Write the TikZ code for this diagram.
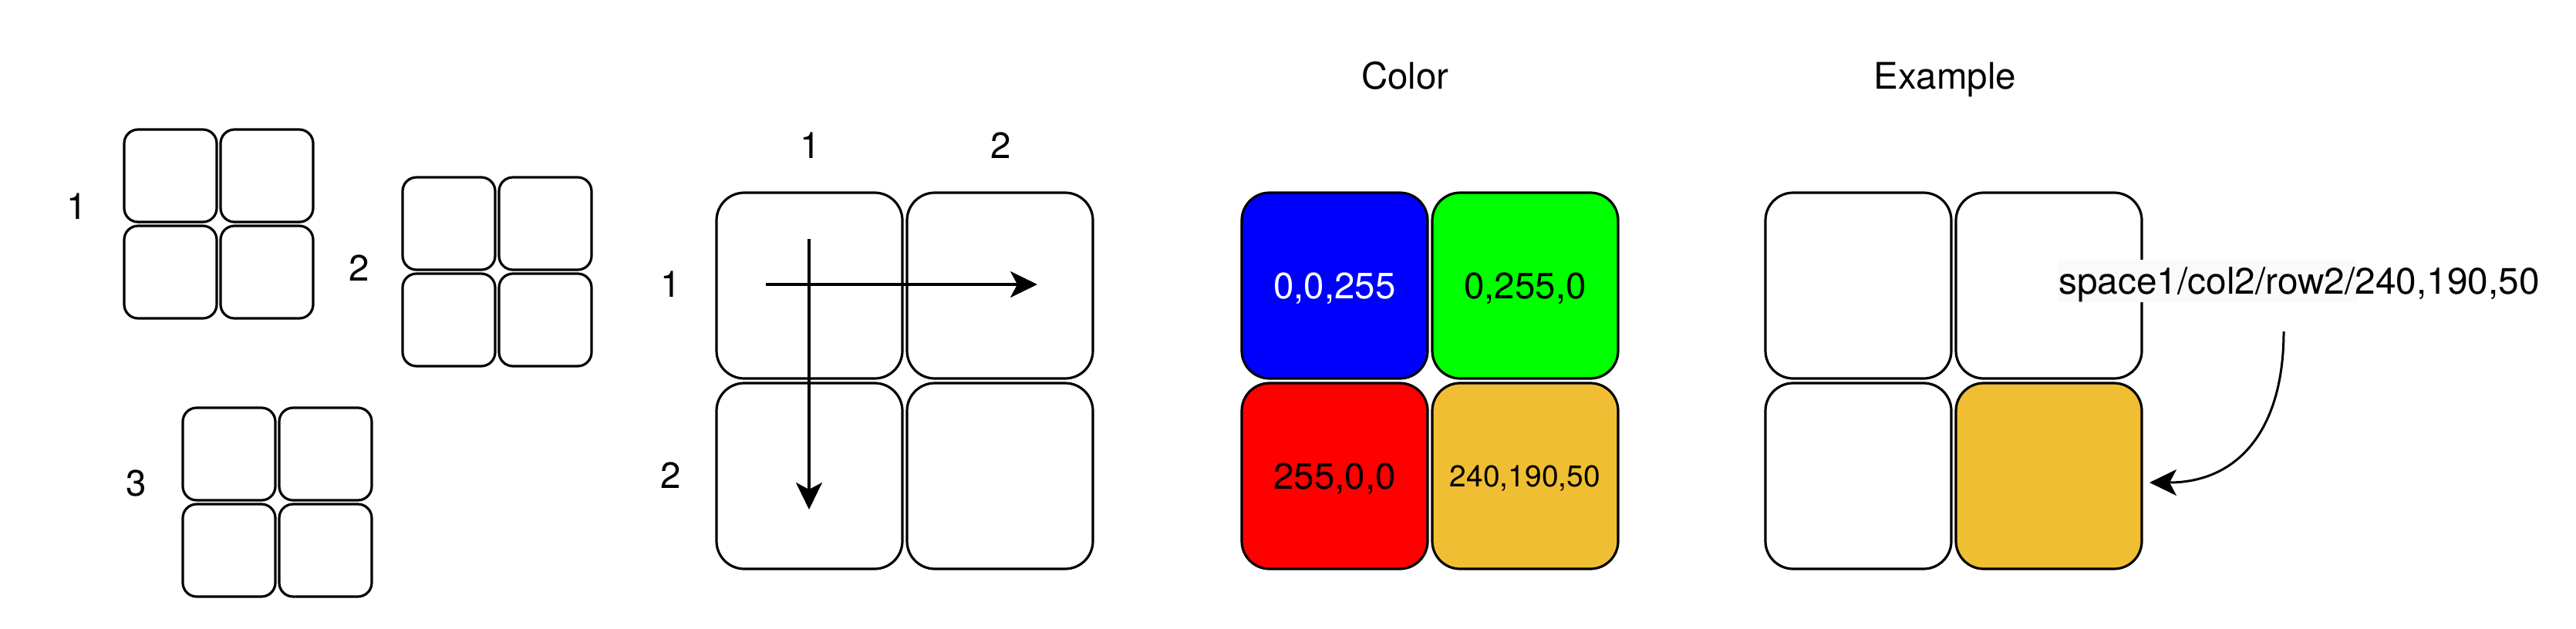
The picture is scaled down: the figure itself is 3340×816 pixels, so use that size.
\documentclass[tikz,border=0pt]{standalone}
\usepackage{fontspec}
\setmainfont{TeX Gyre Heros}
\usetikzlibrary{arrows.meta}
\definecolor{cblue}{RGB}{0,0,255}
\definecolor{cgreen}{RGB}{0,255,0}
\definecolor{cred}{RGB}{255,0,0}
\definecolor{cyel}{RGB}{240,190,50}
\definecolor{lblbg}{RGB}{250,250,250}
\begin{document}
\begin{tikzpicture}[x=1pt,y=-1pt,
  cell/.style={draw=black, line width=3.2pt, rounded corners=18pt, minimum width=120pt, minimum height=120pt, inner sep=0pt, outer sep=0pt, anchor=north west},
  bigcell/.style={draw=black, line width=3.2pt, rounded corners=36pt, minimum width=241pt, minimum height=241pt, inner sep=0pt, outer sep=0pt, anchor=north west, font=\fontsize{47.5pt}{56pt}\selectfont, text depth=0pt},
  txt/.style={font=\fontsize{47.5pt}{56pt}\selectfont, inner sep=0pt, anchor=base},
  smalltxt/.style={font=\fontsize{39pt}{47pt}\selectfont},
  arr/.style={line width=3.2pt, -{Stealth[length=35pt,width=34pt,inset=9pt]}}]
\useasboundingbox (0,0) rectangle (3340,816);
% small grids
\node[cell] (a11) at (161,168) {};
\node[cell] (a12) at (286,168) {};
\node[cell] (a21) at (161,293) {};
\node[cell] (a22) at (286,293) {};
\node[txt] (la) at (100,284.5) {1};
\node[cell] (b11) at (522,230) {};
\node[cell] (b12) at (647,230) {};
\node[cell] (b21) at (522,355) {};
\node[cell] (b22) at (647,355) {};
\node[txt] (lb) at (466,364.5) {2};
\node[cell] (c11) at (237,529) {};
\node[cell] (c12) at (362,529) {};
\node[cell] (c21) at (237,654) {};
\node[cell] (c22) at (362,654) {};
\node[txt] (lc) at (177,643.5) {3};
% main grid
\node[bigcell] (m11) at (929,250) {};
\node[bigcell] (m12) at (1176,250) {};
\node[bigcell] (m21) at (929,497) {};
\node[bigcell] (m22) at (1176,497) {};
\node[txt] (mc1) at (1051,205.5) {1};
\node[txt] (mc2) at (1298,205.5) {2};
\node[txt] (mr1) at (870,385.5) {1};
\node[txt] (mr2) at (870,633.5) {2};
\coordinate (h0) at (993,369);
\coordinate (h1) at (1345,369);
\coordinate (v0) at (1049,310);
\coordinate (v1) at (1049,661);
\draw[arr] (h0) -- (h1);
\draw[arr] (v0) -- (v1);
% color grid
\node[txt] (tcolor) at (1822,115.5) {Color};
\node[bigcell, fill=cblue, text=white] (k11) at (1610,250) {0,0,255};
\node[bigcell, fill=cgreen] (k12) at (1857,250) {0,255,0};
\node[bigcell, fill=cred] (k21) at (1610,497) {255,0,0};
\node[bigcell, fill=cyel, smalltxt] (k22) at (1857,497) {240,190,50};
% example grid
\node[txt] (texample) at (2522,115.5) {Example};
\node[bigcell] (e11) at (2289,250) {};
\node[bigcell] (e12) at (2536,250) {};
\node[bigcell] (e21) at (2289,497) {};
\node[bigcell, fill=cyel] (e22) at (2536,497) {};
\fill[lblbg] (2668,337) rectangle (3056,392);
\node[txt, anchor=base west, font=\fontsize{47.8pt}{56pt}\selectfont] (lbl) at (2669,381) {space1/col2/row2/240,190,50};
\coordinate (src) at (2961,430);
\draw[arr, line width=3pt] (src) .. controls (2961,560) and (2900,626) .. ([shift={(10,8.5)}]e22.east);
\end{tikzpicture}
\end{document}
